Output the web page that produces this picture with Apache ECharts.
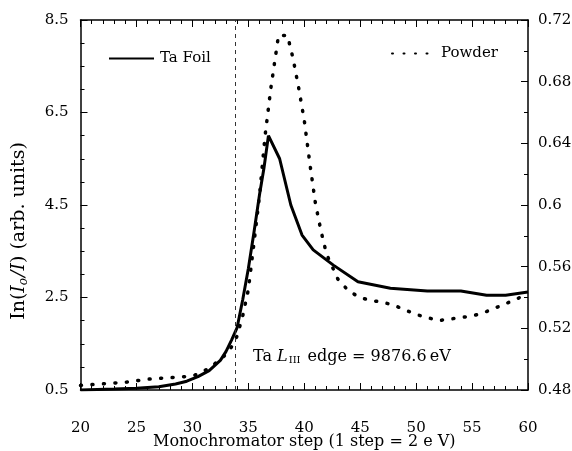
<!DOCTYPE html>
<html><head><meta charset="utf-8">
<script src="https://cdn.jsdelivr.net/npm/echarts@6/dist/echarts.min.js"></script>
<style>html,body{margin:0;padding:0;background:#fff}#c{width:572px;height:451px}</style>
</head><body><div id="c"></div>
<script>
// Ta Foil (left axis)
const taFoilSteps  = [20, 23, 25, 27, 28.5, 29.5, 30.5, 31.5, 32.5, 33, 33.5, 34, 34.5, 35, 35.5, 36, 36.4, 36.8, 37.8, 38.8, 39.8, 40.8, 42.6, 44.8, 47.7, 51, 54, 56.3, 58, 60];
const taFoilValues = [0.50, 0.52, 0.54, 0.57, 0.63, 0.69, 0.79, 0.92, 1.14, 1.33, 1.58, 1.85, 2.45, 3.12, 3.90, 4.72, 5.30, 6.00, 5.50, 4.50, 3.85, 3.53, 3.20, 2.84, 2.70, 2.64, 2.64, 2.55, 2.55, 2.62];
// Powder (right axis)
const powderSteps  = [20, 22, 24, 26, 28, 30, 31, 32, 33, 33.5, 34, 34.5, 35, 35.5, 36, 36.5, 37, 37.5, 37.7, 38.5, 39, 39.5, 40, 40.5, 41, 41.5, 42, 42.5, 43, 44, 45, 46, 47, 48, 49, 50, 51, 52, 53, 54, 55, 56, 57, 58, 59, 60];
const powderValues = [0.483, 0.484, 0.485, 0.487, 0.488, 0.489, 0.492, 0.497, 0.503, 0.508, 0.515, 0.528, 0.545, 0.575, 0.606, 0.645, 0.675, 0.700, 0.710, 0.710, 0.695, 0.676, 0.655, 0.627, 0.601, 0.583, 0.568, 0.560, 0.552, 0.544, 0.540, 0.538, 0.537, 0.535, 0.532, 0.529, 0.527, 0.525, 0.526, 0.527, 0.528, 0.530, 0.533, 0.536, 0.539, 0.543];
// axes
const xTicks = [20, 25, 30, 35, 40, 45, 50, 55, 60];
const leftTicks = [0.5, 2.5, 4.5, 6.5, 8.5];
const rightTicks = [0.48, 0.52, 0.56, 0.6, 0.64, 0.68, 0.72];
const edgeStep = 33.8;
const edgeText = ['Ta ', 'L', 'III', ' edge = 9876.6\u2009eV'];

const FONT = "'DejaVu Serif', 'Liberation Serif', serif";
const chart = echarts.init(document.getElementById('c'), null, {renderer: 'canvas'});
const pair = (xs, ys) => xs.map((x, i) => [x, ys[i]]);
const tickCommon = {show: true, inside: true, length: 7, lineStyle: {color: '#000', width: 1}};
const minorCommon = {show: true, length: 4, lineStyle: {color: '#000', width: 1}};
const axisLineCommon = {show: true, onZero: false, lineStyle: {color: '#000', width: 1.5}};
const txt = {fontFamily: FONT, fontSize: 15, color: '#000'};

chart.setOption({
  animation: false,
  backgroundColor: '#fff',
  grid: {left: 80.5, right: 44, top: 20, bottom: 61, outerBoundsMode: 'none', containLabel: false},
  legend: [
    {data: ['Ta Foil'], left: 103, top: 46, itemWidth: 45, itemHeight: 14,
     itemStyle: {opacity: 0},
     textStyle: {fontFamily: FONT, fontSize: 15, color: '#000', padding: [0, 0, 0, 1]}},
    {data: ['Powder'], left: 386, top: 41, itemWidth: 40, itemHeight: 14,
     itemStyle: {opacity: 0},
     textStyle: {fontFamily: FONT, fontSize: 15, color: '#000', padding: [0, 0, 0, 4]}}
  ],
  xAxis: [
    {type: 'value', position: 'bottom', min: xTicks[0], max: xTicks[xTicks.length - 1], interval: 5,
     axisLine: axisLineCommon, axisTick: tickCommon, minorTick: Object.assign({splitNumber: 5}, minorCommon),
     splitLine: {show: false},
     axisLabel: Object.assign({margin: 31}, txt),
     name: 'Monochromator step (1 step = 2 e V)', nameLocation: 'middle', nameGap: 44, nameMoveOverlap: false,
     nameTextStyle: {fontFamily: FONT, fontSize: 16, color: '#000'}},
    {type: 'value', position: 'top', min: xTicks[0], max: xTicks[xTicks.length - 1], interval: 5,
     axisLine: axisLineCommon, axisTick: tickCommon, minorTick: Object.assign({splitNumber: 5}, minorCommon),
     splitLine: {show: false}, axisLabel: {show: false}}
  ],
  yAxis: [
    {type: 'value', position: 'left', min: leftTicks[0], max: leftTicks[leftTicks.length - 1], interval: 2,
     axisLine: axisLineCommon, axisTick: tickCommon, minorTick: Object.assign({splitNumber: 4}, minorCommon),
     splitLine: {show: false},
     axisLabel: Object.assign({margin: 12}, txt),
     name: '{n|In(}{i|I}{s|o}{i|/I}{n|) (arb. units)}', nameLocation: 'middle', nameGap: 50.5,
     nameTextStyle: {fontFamily: FONT, fontSize: 19, color: '#000', padding: [0, 52, 0, 0],
       rich: {n: {fontFamily: FONT, fontSize: 19, color: '#000'},
              i: {fontFamily: FONT, fontSize: 19, fontStyle: 'italic', color: '#000'},
              s: {fontFamily: FONT, fontSize: 12, fontStyle: 'italic', color: '#000', padding: [9, 1, 0, 0]}}}},
    {type: 'value', position: 'right', min: rightTicks[0], max: rightTicks[rightTicks.length - 1], interval: 0.04,
     axisLine: axisLineCommon, axisTick: tickCommon, minorTick: Object.assign({splitNumber: 2}, minorCommon),
     splitLine: {show: false},
     axisLabel: Object.assign({margin: 10, formatter: v => String(Math.round(v * 100) / 100)}, txt)}
  ],
  series: [
    {name: 'Ta Foil', type: 'line', xAxisIndex: 0, yAxisIndex: 0, data: pair(taFoilSteps, taFoilValues),
     symbol: 'none', smooth: false, lineStyle: {color: '#000', width: 3},
     itemStyle: {color: '#000'},
     markLine: {silent: true, symbol: 'none', label: {show: false},
       lineStyle: {color: '#333', width: 1, type: [4, 4]}, data: [{xAxis: edgeStep}]}},
    {name: 'Powder', type: 'line', xAxisIndex: 0, yAxisIndex: 1, data: pair(powderSteps, powderValues),
     symbol: 'none', smooth: false,
     lineStyle: {color: '#000', width: 3.5, type: [1, 10.5], cap: 'round'},
     itemStyle: {color: '#000'}}
  ],
  graphic: [
    {type: 'text', left: 253, top: 348.5, silent: true,
     style: {text: '{n|' + edgeText[0] + '}{i|' + edgeText[1] + '}{s|' + edgeText[2] + '}{n|' + edgeText[3] + '}',
       fill: '#000',
       rich: {n: {fontFamily: FONT, fontSize: 16, fill: '#000'},
              i: {fontFamily: FONT, fontSize: 16, fontStyle: 'italic', fill: '#000'},
              s: {fontFamily: FONT, fontSize: 10, fill: '#000', padding: [8, 2, 0, 1]}}}}
  ]
});
</script>
</body></html>
